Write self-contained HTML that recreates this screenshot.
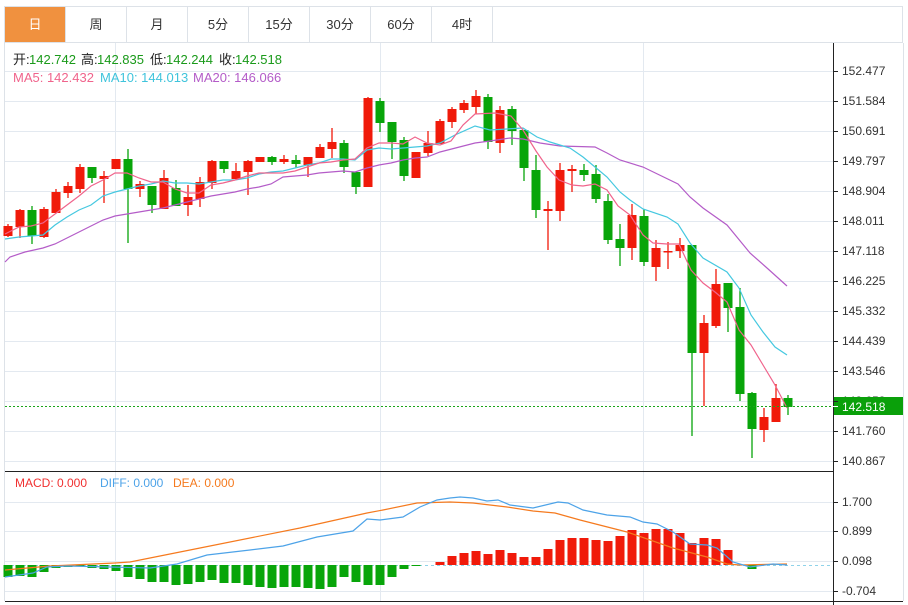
<!DOCTYPE html>
<html><head><meta charset="utf-8"><style>
html,body{margin:0;padding:0;background:#fff;width:908px;height:605px;overflow:hidden}
svg{display:block;font-family:"Liberation Sans","Noto Sans CJK SC",sans-serif}
</style></head><body>
<svg id="s" width="908" height="605" viewBox="0 0 908 605">
<rect x="0" y="0" width="908" height="605" fill="#fff"/>
<g stroke="#dde2e8" fill="none">
<rect x="4.5" y="6.5" width="898" height="36"/>
<line x1="65.5" y1="6" x2="65.5" y2="43"/><line x1="126.5" y1="6" x2="126.5" y2="43"/>
<line x1="187.5" y1="6" x2="187.5" y2="43"/><line x1="248.5" y1="6" x2="248.5" y2="43"/>
<line x1="309.5" y1="6" x2="309.5" y2="43"/><line x1="370.5" y1="6" x2="370.5" y2="43"/>
<line x1="431.5" y1="6" x2="431.5" y2="43"/><line x1="492.5" y1="6" x2="492.5" y2="43"/>
<line x1="4.5" y1="43" x2="4.5" y2="601"/><line x1="903.5" y1="43" x2="903.5" y2="601"/>
</g>
<rect x="5" y="7" width="60" height="35" fill="#f0913f"/>
<g font-size="13" fill="#333" text-anchor="middle">
<text x="35" y="29" fill="#fff">日</text><text x="96" y="29">周</text><text x="157" y="29">月</text>
<text x="218" y="29">5分</text><text x="279" y="29">15分</text><text x="340" y="29">30分</text>
<text x="401" y="29">60分</text><text x="462" y="29">4时</text>
</g>
<g stroke="#e3e9f0" id="grid"></g>
<line x1="5" y1="471.5" x2="833" y2="471.5" stroke="#222"/>
<line x1="5" y1="601.5" x2="903" y2="601.5" stroke="#222"/>
<line x1="833.5" y1="43" x2="833.5" y2="605" stroke="#222"/>
<g font-size="12" fill="#333" id="ax">
<text x="842" y="75">152.477</text><text x="842" y="105">151.584</text><text x="842" y="135">150.691</text>
<text x="842" y="165">149.797</text><text x="842" y="195">148.904</text><text x="842" y="225">148.011</text>
<text x="842" y="255">147.118</text><text x="842" y="285">146.225</text><text x="842" y="315">145.332</text>
<text x="842" y="345">144.439</text><text x="842" y="375">143.546</text><text x="842" y="405">142.653</text>
<text x="842" y="435">141.760</text><text x="842" y="465">140.867</text>
<text x="842" y="506">1.700</text><text x="842" y="535">0.899</text><text x="842" y="565">0.098</text><text x="842" y="595">-0.704</text>
</g>
<g id="plot"></g>
<line x1="5" y1="406.5" x2="833" y2="406.5" stroke="#1aa51a" stroke-dasharray="2,2"/>
<rect x="834" y="397" width="69" height="18" fill="#0aa00a"/>
<line x1="833" y1="406.5" x2="838" y2="406.5" stroke="#fff"/>
<text x="842" y="411" font-size="12" fill="#fff">142.518</text>
<g font-size="13">
<text x="13" y="64" fill="#222">开:</text><text x="29" y="64" fill="#1a9a1a">142.742</text>
<text x="81" y="64" fill="#222">高:</text><text x="97" y="64" fill="#1a9a1a">142.835</text>
<text x="150" y="64" fill="#222">低:</text><text x="166" y="64" fill="#1a9a1a">142.244</text>
<text x="219" y="64" fill="#222">收:</text><text x="235" y="64" fill="#1a9a1a">142.518</text>
<text x="13" y="82" fill="#f0648c">MA5: 142.432</text>
<text x="100" y="82" fill="#3fc4dc">MA10: 144.013</text>
<text x="193" y="82" fill="#b45cc8">MA20: 146.066</text>
<text x="15" y="487" fill="#f03030" font-size="12">MACD: 0.000</text>
<text x="100" y="487" fill="#4da3e8" font-size="12">DIFF: 0.000</text>
<text x="173" y="487" fill="#f57a1e" font-size="12">DEA: 0.000</text>
</g>
</svg>
<script>
var NS="http://www.w3.org/2000/svg";
function el(p,t,a){var e=document.createElementNS(NS,t);for(var k in a)e.setAttribute(k,a[k]);p.appendChild(e);return e;}
var g=document.getElementById("grid"),p=document.getElementById("plot"),ax=document.getElementById("ax");
[71,101,131,161,191,221,251,281,311,341,371,401,431,461,502,531,561,591].forEach(function(y){el(g,"line",{x1:5,y1:y+.5,x2:833,y2:y+.5});el(ax.parentNode,"line",{x1:833,y1:y+.5,x2:838,y2:y+.5,stroke:"#222"});});
[115,380,643].forEach(function(x){el(g,"line",{x1:x+.5,y1:43,x2:x+.5,y2:601});});
el(p,"line",{x1:5,y1:565.5,x2:833,y2:565.5,stroke:"#8fd3ea","stroke-dasharray":"3,3"});
var C=[[226,236,224,237,1],[210,227,209,238,1],[210,236,206,244,0],[209,237,207,238,1],[192,213,189,213,1],[186,193,182,198,1],[167,189,164,193,1],[167,178,167,183,0],[176,179,171,203,1],[159,169,159,169,1],[159,189,149,243,0],[184,189,181,197,1],[186,205,186,213,0],[178,209,170,209,1],[188,206,180,206,0],[197,205,185,216,1],[182,199,177,207,1],[161,183,160,189,1],[161,169,161,173,0],[171,179,163,179,1],[161,172,160,195,1],[157,162,157,162,1],[157,162,156,165,0],[159,162,155,164,1],[160,164,155,168,0],[157,165,157,177,1],[147,158,144,158,1],[142,149,128,158,1],[143,167,140,173,0],[172,187,172,194,0],[98,187,97,187,1],[101,123,98,132,0],[122,142,122,159,0],[140,176,137,181,0],[152,178,152,178,1],[143,153,131,156,1],[121,144,119,144,1],[109,122,107,128,1],[103,110,100,113,1],[96,107,90,114,1],[97,142,94,149,0],[110,143,106,153,1],[109,131,106,145,0],[130,168,130,181,0],[170,210,155,218,0],[209,211,201,250,1],[170,211,163,221,1],[169,171,165,192,1],[170,175,164,181,0],[174,199,165,203,0],[201,240,194,244,0],[239,248,224,266,0],[215,248,204,260,1],[216,262,209,266,0],[248,267,240,281,1],[251,252,242,269,1],[245,251,238,258,1],[245,353,245,436,0],[323,353,315,406,1],[284,326,269,328,1],[283,308,283,332,0],[307,394,288,401,0],[393,429,392,458,0],[417,430,408,442,1],[398,422,384,422,1],[398,407,395,415,0]];
C.forEach(function(c,i){var x=7.5+12*i,col=c[4]?"#f01a0a":"#08a50a";
el(p,"line",{x1:x+.5,y1:c[2],x2:x+.5,y2:c[3],stroke:col,"stroke-width":1.3});
el(p,"rect",{x:x-4,y:c[0],width:9,height:Math.max(1.5,c[1]-c[0]),fill:col});});
function pl(pts,col){el(p,"polyline",{points:pts,fill:"none",stroke:col,"stroke-width":1.2});}
pl("5,262 10,257 25,252 43,248 55,244 67,238 79,232 91,226 103,220 115,216 127,214 139,212 151,210 163,208 175,205 187,202 199,199 211,196 223,194 235,192 247,189 259,187 271,184 283,177 295,176 307,175 319,173 331,172 343,171 355,172 367,168 379,165 391,163 403,160 415,158 427,157 440,152 475,143 490,141 510,138 523,139 540,143 560,146 595,147 607,153 620,160 643,167 678,184 690,197 703,208 727,225 750,253 767,268 787,286","#b45cc8");
pl("5,239 19,237 31,236 43,235 55,225 67,217 79,210 91,205 103,196 115,192 127,189 139,186 151,184 163,181 175,183 187,183 199,184 211,182 223,180 235,180 247,178 259,174 271,172 283,171 295,168 307,165 319,163 331,159 343,159 355,160 367,150 379,148 391,149 403,148 415,147 427,146 440,143 455,135 475,126 490,130 523,128 537,137 550,142 570,148 583,157 595,167 607,177 620,192 630,200 643,209 667,217 678,224 690,243 703,258 727,272 739,288 751,315 763,332 775,347 787,355","#45c8e0");
pl("5,234 19,227 31,226 43,223 55,214 67,205 79,196 91,186 103,180 115,173 127,173 139,178 151,182 163,182 175,189 187,193 199,193 211,185 223,183 235,180 247,176 259,173 271,173 283,173 295,171 307,167 319,163 331,162 343,160 355,159 367,148 379,143 391,143 403,144 415,137 427,143 440,145 451,141 463,125 475,114 495,113 511,116 523,130 536,151 547,167 559,180 572,185 583,186 595,184 607,190 618,206 630,215 643,235 653,243 667,244 679,244 691,270 703,283 715,292 727,302 739,330 751,345 763,365 775,385 787,408","#f0648c");
var B=[577,576,577,572,568,567,566,568,569,571,577,579,582,582,585,584,582,580,583,583,585,587,588,587,587,588,589,587,577,582,585,585,577,569,566,565,562,556,553,551,554,550,553,557,557,549,540,538,538,540,541,536,530,533,529,529,533,543,538,539,550,565,569,565,565,565];
B.forEach(function(y,i){var x=7.5+12*i;if(Math.abs(y-565)<1)return;
var col=y>565?"#08a50a":"#f01a0a";el(p,"rect",{x:x-4,y:Math.min(y,565),width:9,height:Math.abs(y-565),fill:col});});
pl("5,570 50,566 115,563 130,562 200,548 300,528 367,513 383,510 417,503 450,502 473,503 507,507 533,511 555,513 580,520 627,532 673,548 707,557 727,564 740,565 787,564","#f57a1e");
pl("5,577 33,573 47,567 67,566 110,567 150,568 177,564 207,555 250,550 283,546 317,537 353,531 367,519 380,520 403,517 420,507 437,500 450,498 460,497 473,498 487,501 498,500 510,505 533,508 558,502 568,503 583,510 607,515 630,517 643,522 657,524 673,532 690,544 707,545 717,548 733,562 750,567 773,564 787,565","#4da3e8");
</script>
</body></html>
